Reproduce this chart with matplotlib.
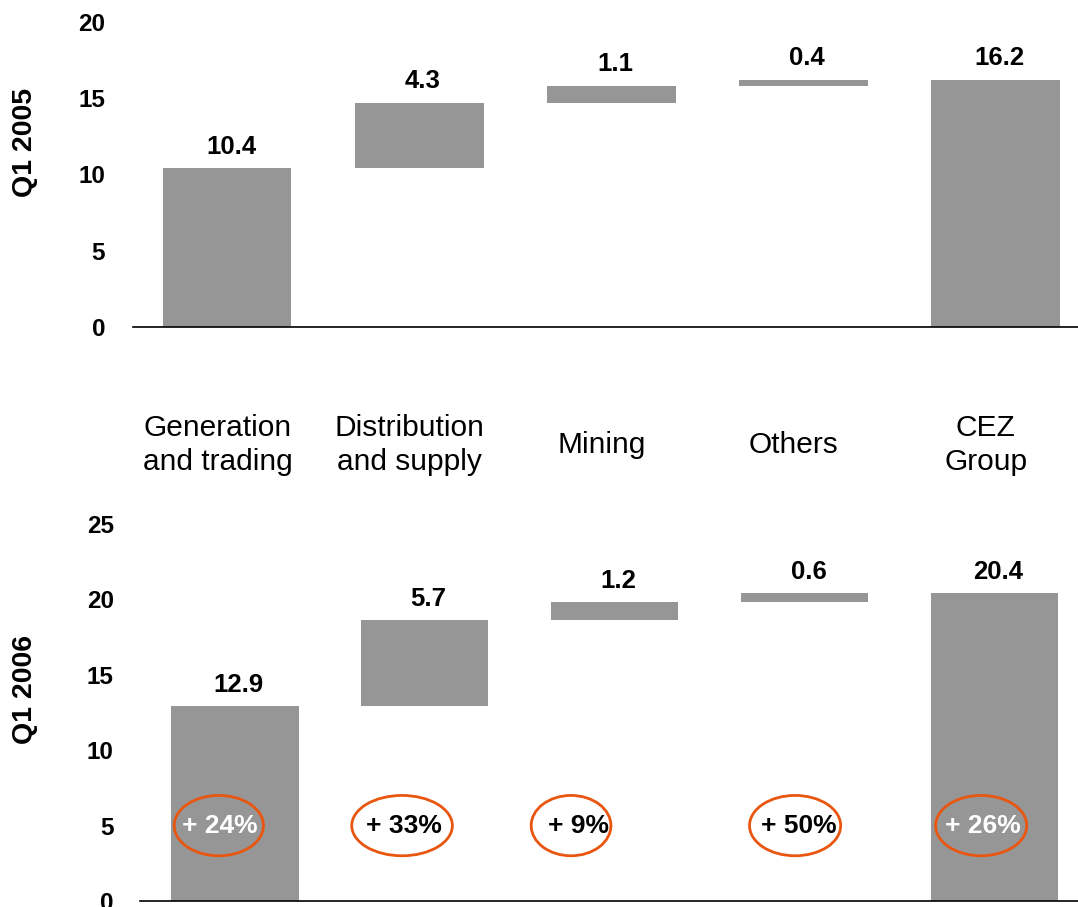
import numpy as np
import matplotlib.pyplot as plt
from matplotlib.patches import Ellipse

plt.rcParams['font.family'] = ['Liberation Sans', 'DejaVu Sans']

# EBITDA contributions by segment (CZK bn)
categories = ["Generation\nand trading", "Distribution\nand supply", "Mining", "Others", "CEZ\nGroup"]
q1_2005 = [10.4, 4.3, 1.1, 0.4]
q1_2006 = [12.9, 5.7, 1.2, 0.6]
total_2005 = 16.2
total_2006 = 20.4

bar_color = "#969696"
ring_color = "#E8560F"


def waterfall(ax, parts, total):
    heights = parts + [total]
    bottoms = list(np.concatenate([[0], np.cumsum(parts)[:-1]])) + [0]
    x = np.arange(len(heights))
    ax.bar(x, heights, bottom=bottoms, width=0.67, color=bar_color, zorder=2)
    for xi, h, b in zip(x, heights, bottoms):
        ax.annotate(f"{h:.1f}", (xi + 0.02, b + h), xytext=(0, 7), textcoords="offset points",
                    ha="center", va="bottom", fontsize=18.5, fontweight="bold")
    for s in ["top", "right", "left"]:
        ax.spines[s].set_visible(False)
    ax.spines["bottom"].set_linewidth(1.2)
    ax.tick_params(length=0, labelsize=17.5)
    ax.set_xticks([])
    return heights


fig = plt.figure(figsize=(10.78, 9.07), dpi=100)

# top panel: Q1 2005
ax1 = fig.add_axes([0.1234, 0.6395, 0.8766, 0.3363])
h05 = waterfall(ax1, q1_2005, total_2005)
ax1.set_ylim(0, 20)
ax1.set_yticks([0, 5, 10, 15, 20])
ax1.set_xlim(-0.49, 4.43)
ax1.tick_params(axis="y", pad=20)
for lab in ax1.get_yticklabels():
    lab.set_fontweight("bold")

# category names between the two panels
for i, name in enumerate(categories):
    ax1.text(i - 0.05, -7.75, name, ha="center", va="center", fontsize=21.5,
             linespacing=1.3, clip_on=False)

# bottom panel: Q1 2006
ax2 = fig.add_axes([0.1299, 0.0066, 0.8701, 0.4157])
h06 = waterfall(ax2, q1_2006, total_2006)
ax2.set_ylim(0, 25)
ax2.set_yticks([0, 5, 10, 15, 20, 25])
ax2.set_xlim(-0.5, 4.44)
ax2.tick_params(axis="y", pad=19)
for lab in ax2.get_yticklabels():
    lab.set_fontweight("bold")

# year-on-year growth badges
ring_dx = [-0.085, -0.12, -0.23, -0.05, -0.07]
ring_w = [0.47, 0.53, 0.42, 0.48, 0.48]
text_dx = [-0.08, -0.11, -0.19, -0.03, -0.06]
on_bar = [True, False, False, False, True]
for i, (a, b) in enumerate(zip(h05, h06)):
    growth = round((b / a - 1) * 100)
    ax2.add_patch(Ellipse((i + ring_dx[i], 5), ring_w[i], 4.0, fill=False,
                          edgecolor=ring_color, linewidth=2, zorder=3))
    ax2.text(i + text_dx[i], 5, f"+ {growth}%", ha="center", va="center", fontsize=19,
             fontweight="bold", color="white" if on_bar[i] else "black", zorder=4)

fig.text(25 / 1078, 1 - 142 / 907, "Q1 2005", rotation=90, ha="center", va="center",
         fontsize=20.5, fontweight="bold")
fig.text(25 / 1078, 1 - 689 / 907, "Q1 2006", rotation=90, ha="center", va="center",
         fontsize=20.5, fontweight="bold")

fig.savefig("out.png", dpi=100)
